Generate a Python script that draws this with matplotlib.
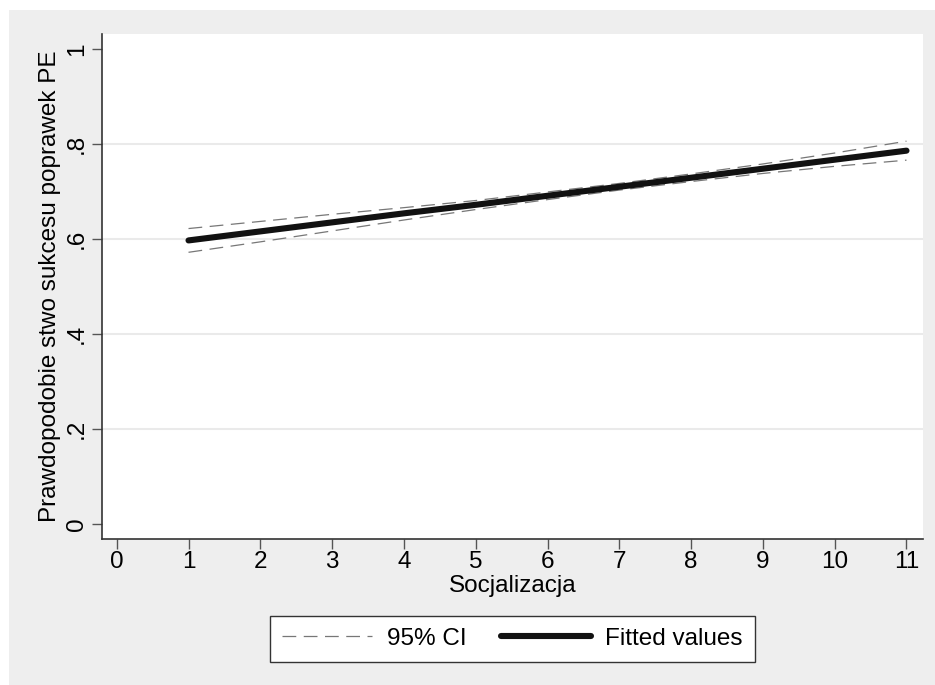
import matplotlib
matplotlib.use("Agg")
import matplotlib.pyplot as plt
from matplotlib.patches import Rectangle

# predicted probabilities
socjalizacja = [1, 2, 3, 4, 5, 6, 7, 8, 9, 10, 11]
fitted = [0.597, 0.616, 0.635, 0.654, 0.672, 0.691, 0.710, 0.729, 0.748, 0.767, 0.786]
ci_upper = [0.622, 0.637, 0.652, 0.666, 0.681, 0.699, 0.717, 0.737, 0.758, 0.781, 0.806]
ci_lower = [0.572, 0.594, 0.617, 0.640, 0.662, 0.683, 0.703, 0.721, 0.738, 0.753, 0.766]

x_ticks = list(range(0, 12))
y_ticks = [0, 0.2, 0.4, 0.6, 0.8, 1]
y_tick_labels = ["0", ".2", ".4", ".6", ".8", "1"]

plt.rcParams["font.family"] = ["Liberation Sans", "DejaVu Sans"]
fs = 17.5

W, H = 935, 685
fig = plt.figure(figsize=(W / 100, H / 100), dpi=100)
fig.patch.set_facecolor("white")
fig.patches.append(Rectangle((9 / W, 0), 1 - 9 / W, 1 - 10 / H, transform=fig.transFigure,
                             facecolor="#eeeeee", edgecolor="none", zorder=-10))

ax = fig.add_axes([102 / W, 1 - 539 / H, (923 - 102) / W, (539 - 34) / H])
ax.set_facecolor("white")

for y in [0.2, 0.4, 0.6, 0.8]:
    ax.axhline(y, color="#eaeaea", lw=1.5, zorder=1)

ax.plot(socjalizacja, ci_upper, color="#777777", lw=0.9, dashes=(11, 6), zorder=2)
ax.plot(socjalizacja, ci_lower, color="#777777", lw=0.9, dashes=(11, 6), zorder=2,
        label="95% CI")
ax.plot(socjalizacja, fitted, color="#111111", lw=4.4, solid_capstyle="round", zorder=3,
        label="Fitted values")

ax.set_xlim(-0.205, 11.23)
ax.set_ylim(-0.0316, 1.0316)
ax.set_xticks(x_ticks)
ax.set_yticks(y_ticks)
ax.set_yticklabels(y_tick_labels, rotation=90, va="center")

for s in ["top", "right"]:
    ax.spines[s].set_visible(False)
for s in ["left", "bottom"]:
    ax.spines[s].set_color("#333333")
    ax.spines[s].set_linewidth(1.2)

ax.tick_params(axis="both", direction="out", length=7, width=1, color="#555555",
               labelsize=fs, labelcolor="black")
ax.tick_params(axis="x", pad=2)
ax.tick_params(axis="y", pad=3)

ax.set_xlabel("Socjalizacja", fontsize=fs, labelpad=1)
ax.set_ylabel("Prawdopodobie stwo sukcesu poprawek PE", fontsize=fs, labelpad=4)

leg = ax.legend(loc="upper center", bbox_to_anchor=(0.5, -0.128), ncol=2, fontsize=fs,
                frameon=True, fancybox=False, framealpha=1, handlelength=3.7,
                handletextpad=0.6, columnspacing=1.4, borderpad=0.5)
leg.get_frame().set_edgecolor("#333333")
leg.get_frame().set_linewidth(1)

fig.savefig("out.png", dpi=100)
